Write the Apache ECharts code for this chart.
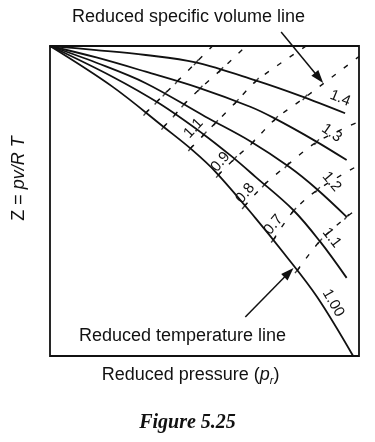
<!DOCTYPE html>
<html><head><meta charset="utf-8">
<script src="https://cdn.jsdelivr.net/npm/echarts@6/dist/echarts.min.js"></script>
<style>html,body{margin:0;padding:0;background:#fff}#c{width:375px;height:442px}</style>
</head><body><div id="c"></div>
<script>
// ---- data (reduced pressure 0..100 on x, Z 0..100 on y, arbitrary chart units) ----
const tempLabels = ['1.4', '1.3', '1.2', '1.1', '1.00'];
const curveTr140 = [[0,100],[15,98.7],[31.0,97.1],[47.1,94.7],[66.5,88.9],[81.0,83.9],[95.5,78.3]];
const curveTr130 = [[0,100],[15,96.3],[31.0,91.7],[48.2,86.5],[64.8,80.4],[72.4,76.8],[85.8,69.4],[96.0,63.2]];
const curveTr120 = [[0,100],[15,94.6],[31.0,88.0],[50.3,77.2],[64.8,69.3],[77.7,60.8],[86.4,53.8],[96.0,44.9]];
const curveTr110 = [[0,100],[20.2,90.1],[35.3,81.5],[49.3,71.8],[58.9,64.3],[66.5,57.8],[78.7,47.1],[87.5,36.8],[96.0,25.2]];
const curveTr100 = [[0,100],[20.2,86.9],[36.9,73.8],[46.0,66.5],[53.5,59.5],[66.5,44.5],[75.5,33.4],[86.4,19.1],[98.1,0]];

const volumeLabels = ['', '', '1.1', '0.9', '0.8', '0.7', ''];
const volLine1 = [[31.0,78.4],[34.6,82.0],[37.2,84.6],[41.2,88.6],[47.3,94.7],[52.6,100]];
const volLine2 = [[36.8,73.9],[40.5,77.9],[43.3,81.1],[48.6,86.3],[55.3,92.3],[63.5,100]];
const volLine3 = [[45.5,67.0],[49.9,71.5],[53.6,75.2],[60.3,82.0],[66.8,88.8],[82.9,100]];
const volLine4 = [[54.5,58.4],[59.7,63.6],[65.6,68.9],[73.0,76.5],[82.5,83.4],[100,96.6]];
const volLine5 = [[62.9,48.3],[69.4,55.3],[76.7,61.5],[86.3,69.0],[100,75.6]];
const volLine6 = [[72.3,37.5],[78.9,46.9],[86.6,53.6],[100,61.6]];
const volLine7 = [[80.0,27.6],[87.3,37.0],[96.0,44.9],[100,47.7]];

const arrowVolume = [[74.8,104.5],[88.4,88.1]];
const arrowTemp = [[63.2,12.6],[78.8,28.4]];

// ---- styles ----
const FONT = '"Liberation Sans", Arial, Helvetica, sans-serif';
const INK = '#111';
const curves = [curveTr140, curveTr130, curveTr120, curveTr110, curveTr100];
const volLines = [volLine1, volLine2, volLine3, volLine4, volLine5, volLine6, volLine7];
const curveLabelStyle = [
  {rotate:-22, dx:-5, dy:-15},
  {rotate:-35, dx:-15, dy:-27},
  {rotate:-50, dx:-15, dy:-35},
  {rotate:-52, dx:-15, dy:-40},
  {rotate:-60, dx:-20, dy:-53}
];
const volLabelStyle = [null, null,
  {rotate:47, dx:3, dy:-20},
  {rotate:50, dx:2, dy:-13},
  {rotate:50, dx:1, dy:-13},
  {rotate:50, dx:0, dy:-15},
  null];

function localOffset(dx, dy, deg) {
  const t = deg * Math.PI / 180;
  return [dx * Math.cos(t) - dy * Math.sin(t), dx * Math.sin(t) + dy * Math.cos(t)];
}
function numLabel(text, st) {
  return {show:true, formatter:text, position:'inside', rotate:st.rotate,
    offset: localOffset(st.dx, st.dy, st.rotate),
    fontFamily:FONT, fontSize:15, color:INK};
}

const series = [];
curves.forEach((c, i) => {
  series.push({
    type:'line', name:'Tr ' + tempLabels[i], smooth:0.35, showSymbol:true, symbolSize:0,
    silent:true, z:3,
    lineStyle:{color:INK, width:1.8}, itemStyle:{color:INK},
    data: c.map((p, j) => j === c.length - 1 ? {value:p, label:numLabel(tempLabels[i], curveLabelStyle[i])} : p)
  });
});
volLines.forEach((l, k) => {
  series.push({
    type:'line', smooth:0.3, showSymbol:true, symbolSize:0, silent:true, z:2,
    lineStyle:{color:INK, width:1.4, type:[5,10]}, itemStyle:{color:INK},
    data: l.map((p, j) => (j === 0 && volumeLabels[k]) ? {value:p, label:numLabel(volumeLabels[k], volLabelStyle[k])} : p)
  });
});
series.push({
  type:'scatter', silent:true, z:4, symbol:'rect', symbolSize:[1.4, 7], symbolRotate:-40,
  itemStyle:{color:INK},
  data: volLines.flatMap(l => l.slice(0, -1))
});

const titleText = {fontFamily:FONT, fontSize:18, fontWeight:'normal', color:INK, lineHeight:18};
const option = {
  backgroundColor:'#fff',
  animation:false,
  title:[
    {text:'Reduced specific volume line', left:72, top:8, padding:0, textStyle:titleText},
    {text:'Reduced temperature line', left:79, top:327, padding:0, textStyle:titleText},
    {text:'Figure 5.25', left:'center', top:413, padding:0,
     textStyle:{fontFamily:'"Liberation Serif", "Times New Roman", serif', fontStyle:'italic', fontWeight:'bold', fontSize:20, color:INK, lineHeight:20}}
  ],
  grid:{left:49, top:46, width:310, height:310, show:true, borderColor:INK, borderWidth:1.8, backgroundColor:'transparent'},
  xAxis:{type:'value', min:0, max:100, axisLine:{show:false}, axisTick:{show:false}, axisLabel:{show:false}, splitLine:{show:false},
    name:'Reduced pressure ({i|p}{s|r})', nameLocation:'middle', nameGap:8,
    nameTextStyle:{fontFamily:FONT, fontSize:18, color:INK, lineHeight:22, padding:[0,28,0,0],
      rich:{i:{fontFamily:FONT, fontSize:18, fontStyle:'italic', color:INK, lineHeight:22},
            s:{fontFamily:FONT, fontSize:11, fontStyle:'italic', color:INK, lineHeight:12, verticalAlign:'bottom'}}}},
  yAxis:{type:'value', min:0, max:100, axisLine:{show:false}, axisTick:{show:false}, axisLabel:{show:false}, splitLine:{show:false},
    name:'Z = {i|pv/R T}', nameLocation:'middle', nameGap:20,
    nameTextStyle:{fontFamily:FONT, fontSize:18, color:INK, lineHeight:22, padding:[0,0,0,45],
      rich:{i:{fontFamily:FONT, fontSize:18, fontStyle:'italic', color:INK, lineHeight:22}}}},
  series:series
};

const chart = echarts.init(document.getElementById('c'));
chart.setOption(option);

function arrow(a) {
  const p1 = chart.convertToPixel({gridIndex:0}, a[0]);
  const p2 = chart.convertToPixel({gridIndex:0}, a[1]);
  const dx = p2[0] - p1[0], dy = p2[1] - p1[1];
  const len = Math.hypot(dx, dy), ux = dx / len, uy = dy / len;
  const hl = 13, hw = 4.5;
  const bx = p2[0] - ux * hl, by = p2[1] - uy * hl;
  return [
    {type:'line', silent:true, z:10, shape:{x1:p1[0], y1:p1[1], x2:bx + ux * 2, y2:by + uy * 2}, style:{stroke:INK, lineWidth:1.5}},
    {type:'polygon', silent:true, z:10, shape:{points:[p2, [bx - uy * hw, by + ux * hw], [bx + uy * hw, by - ux * hw]]}, style:{fill:INK}}
  ];
}
chart.setOption({graphic: arrow(arrowVolume).concat(arrow(arrowTemp))});
</script></body></html>
